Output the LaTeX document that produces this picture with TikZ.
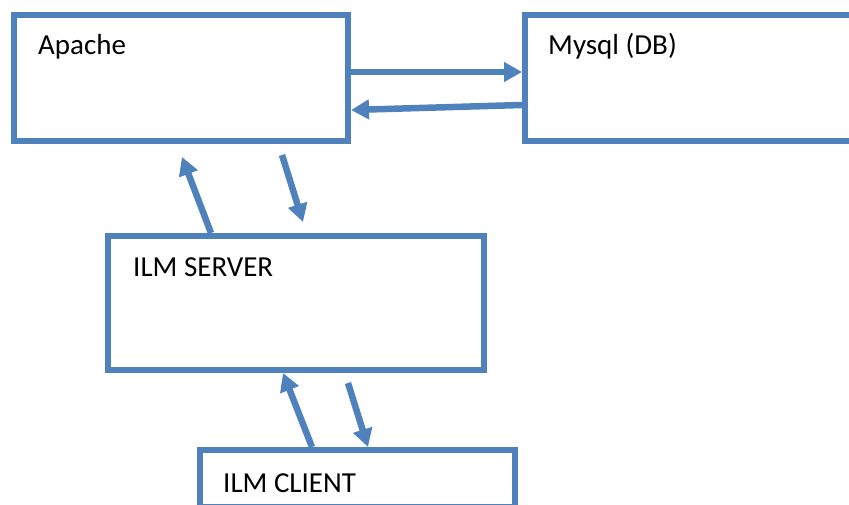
\documentclass[tikz,border=0pt]{standalone}
\usepackage{fontspec}
\setmainfont{Carlito}
\usepackage{tikz}
\usetikzlibrary{arrows.meta}
\definecolor{boxblue}{HTML}{4F81BD}

\begin{document}
\begin{tikzpicture}[x=1pt,y=1pt,
  box/.style={draw=boxblue, line width=6pt, rectangle, inner sep=0pt},
  flow/.style={draw=boxblue, line width=6.5pt, -{Triangle[length=18pt,width=19pt]}},
  txt/.style={font=\fontsize{29}{33}\selectfont, inner sep=0pt, anchor=base west}]
\useasboundingbox (0,0) rectangle (849,504);
\clip (0,0) rectangle (849,504);
% boxes
\node[box, minimum width=334pt, minimum height=126pt] (apache) at (181,426) {};
\node[box, minimum width=355pt, minimum height=126pt] (mysql) at (702.5,426) {};
\node[box, minimum width=376pt, minimum height=134pt] (server) at (296,201) {};
\node[box, minimum width=315pt, minimum height=57pt] (client) at (357.5,25.5) {};
% texts
\node[txt] (apachetxt) at (38,449) {Apache};
\node[txt] (mysqltxt) at (548,449) {Mysql (DB)};
\node[txt] (servertxt) at (133,227) {ILM SERVER};
\node[txt] (clienttxt) at (223,12) {ILM CLIENT};
% arrows
\draw[flow] ([yshift=6pt]apache.east) -- ([yshift=6pt]mysql.west);
\draw[flow] ([yshift=-27pt]mysql.west) -- ([yshift=-32pt]apache.east);
\draw[flow] ([xshift=-85pt]server.north) -- ([xshift=1pt,yshift=-13pt]apache.south);
\draw[flow] ([xshift=101pt,yshift=-11pt]apache.south) -- ([xshift=7pt,yshift=11pt]server.north);
\draw[flow] ([xshift=-45.5pt]client.north) -- ([xshift=-13pt]server.south);
\draw[flow] ([xshift=52pt,yshift=-10pt]server.south) -- ([xshift=10.5pt]client.north);
\end{tikzpicture}
\end{document}
